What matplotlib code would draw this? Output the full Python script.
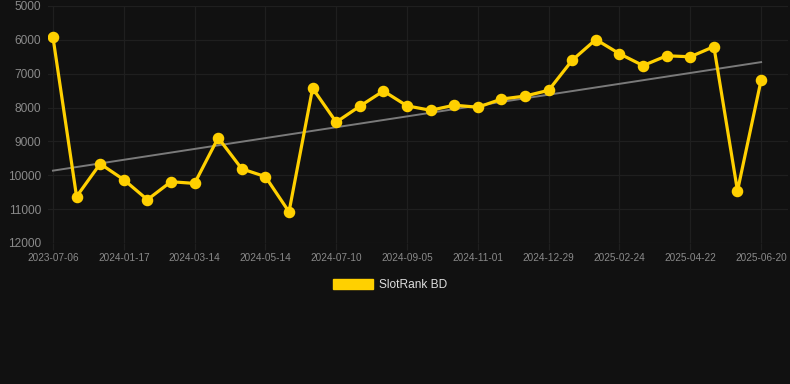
import numpy as np
import matplotlib
matplotlib.use("Agg")
import matplotlib.pyplot as plt
from matplotlib.patches import Patch

# rank per observation (lower = better), equally spaced observations
ranks = [5920, 10630, 9660, 10130, 10720, 10190, 10240, 8890, 9810, 10040,
         11080, 7430, 8430, 7960, 7510, 7950, 8080, 7930, 7990, 7750,
         7660, 7490, 6600, 5990, 6410, 6760, 6470, 6500, 6200, 10460, 7190]
tick_labels = ["2023-07-06", "2024-01-17", "2024-03-14", "2024-05-14",
               "2024-07-10", "2024-09-05", "2024-11-01", "2024-12-29",
               "2025-02-24", "2025-04-22", "2025-06-20"]
y_ticks = [5000, 6000, 7000, 8000, 9000, 10000, 11000, 12000]
series_name = "SlotRank BD"

bg = "#111111"
gold = "#FFD000"
grid_c = "#1f1f1f"
tick_c = "#8a8a8a"

plt.rcParams['font.family'] = ['Liberation Sans', 'DejaVu Sans']

fig = plt.figure(figsize=(7.9, 3.84), dpi=100, facecolor=bg)
ax = fig.add_axes([48 / 790, 1 - 243 / 384, 740 / 790, 237 / 384])
ax.set_facecolor(bg)

x = np.arange(len(ranks))
y = np.array(ranks)

# linear trend
k, b = np.polyfit(x, y, 1)
ax.plot(x, k * x + b, color="#7a7a7a", lw=1.4, zorder=2)

ax.plot(x, y, color=gold, lw=2.3, marker="o", ms=7.3, zorder=3)

ax.set_xlim(-0.21, 31.14)
ax.set_ylim(12000, 5000)
ax.set_yticks(y_ticks)
ax.set_xticks(x[::3])
ax.set_xticklabels(tick_labels)
ax.grid(True, color=grid_c, lw=0.9)
ax.set_axisbelow(True)
for s in ax.spines.values():
    s.set_visible(False)
ax.tick_params(axis="y", length=0, pad=5, labelsize=8.6, colors=tick_c)
ax.tick_params(axis="x", length=5, width=0.9, pad=2,
               labelsize=7.2, colors=tick_c)
ax.tick_params(axis="x", color=grid_c)

fig.legend(handles=[Patch(facecolor=gold, edgecolor=gold)], labels=[series_name],
           loc="center", bbox_to_anchor=(390 / 790, 1 - 285 / 384),
           frameon=False, fontsize=8.6, labelcolor="#dddddd",
           handlelength=3.3, handleheight=0.9, handletextpad=0.5)

fig.savefig("out.png", dpi=100, facecolor=bg)
